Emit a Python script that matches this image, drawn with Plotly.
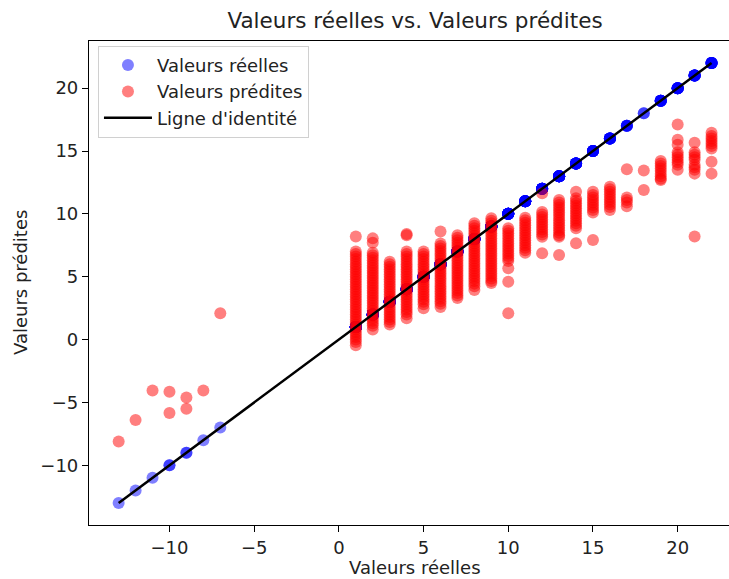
import plotly.graph_objects as go

# Actual (true) class values present in the test set
actual_values = [-13, -12, -11, -10, -9, -8, -7,
                 1, 2, 3, 4, 5, 6, 7, 8, 9, 10, 11,
                 12, 13, 14, 15, 16, 17, 18, 19, 20, 21, 22]

predicted_groups = [
    [-8.1],
    [-6.4],
    [-4.05],
    [-4.15, -5.85],
    [-4.6, -5.5],
    [-4.05],
    [2.1],
    [8.2, 7.0, 6.8, 6.6, 6.4, 6.2, 6.0, 5.8, 5.6, 5.4, 5.2, 5.0, 4.8, 4.6,
     4.4, 4.2, 4.0, 3.8, 3.6, 3.4, 3.2, 3.0, 2.8, 2.6, 2.4, 2.2, 2.0, 1.8,
     1.6, 1.4, 1.2, 1.0, 0.8, 0.6, 0.4, 0.2, 0.0, -0.2, -0.45],
    [8.05, 7.7, 6.9, 6.7, 6.5, 6.3, 6.1, 5.9, 5.7, 5.5, 5.3, 5.1, 4.9, 4.7,
     4.5, 4.3, 4.1, 3.9, 3.7, 3.5, 3.3, 3.1, 2.9, 2.7, 2.5, 2.3, 2.1, 1.9,
     1.7, 1.5, 1.3, 1.1, 0.8],
    [6.2, 6.0, 5.8, 5.6, 5.4, 5.2, 5.0, 4.8, 4.6, 4.4, 4.2, 4.0, 3.8, 3.6,
     3.4, 3.2, 3.0, 2.8, 2.6, 2.4, 2.2, 2.0, 1.8, 1.6, 1.4, 1.2],
    [8.4, 8.3, 7.0, 6.8, 6.6, 6.4, 6.2, 6.0, 5.8, 5.6, 5.4, 5.2, 5.0, 4.8,
     4.6, 4.4, 4.2, 4.0, 3.8, 3.6, 3.4, 3.2, 3.0, 2.8, 2.6, 2.4, 2.2, 2.0,
     1.7],
    [7.0, 6.8, 6.6, 6.4, 6.2, 6.0, 5.8, 5.6, 5.4, 5.2, 5.0, 4.8, 4.6, 4.4,
     4.2, 4.0, 3.8, 3.6, 3.4, 3.2, 3.0, 2.8, 2.5],
    [8.6, 7.65, 7.45, 7.25, 7.05, 6.85, 6.65, 6.45, 6.25, 6.05, 5.85, 5.65,
     5.45, 5.25, 5.05, 4.85, 4.65, 4.45, 4.25, 4.05, 3.85, 3.65, 3.45, 3.25,
     3.05, 2.85, 2.6],
    [8.3, 8.1, 7.9, 7.7, 7.5, 7.3, 7.1, 6.9, 6.7, 6.5, 6.3, 6.1, 5.9, 5.7,
     5.5, 5.3, 5.1, 4.9, 4.7, 4.5, 4.3, 4.1, 3.9, 3.7, 3.5, 3.3],
    [9.25, 9.05, 8.85, 8.65, 8.45, 8.25, 8.05, 7.85, 7.65, 7.45, 7.25, 7.05,
     6.85, 6.65, 6.45, 6.25, 6.05, 5.85, 5.65, 5.45, 5.25, 5.05, 4.85, 4.65,
     4.45, 4.25, 3.95],
    [9.65, 9.45, 9.25, 9.05, 8.85, 8.65, 8.45, 8.25, 8.05, 7.85, 7.65, 7.45,
     7.25, 7.05, 6.85, 6.65, 6.45, 6.25, 6.05, 5.85, 5.65, 5.45, 5.25, 5.05,
     4.85, 4.65, 4.5],
    [8.85, 8.65, 8.45, 8.25, 8.05, 7.85, 7.65, 7.45, 7.25, 7.05, 6.85, 6.65,
     6.45, 6.25, 5.67, 4.6, 2.1],
    [9.7, 9.5, 9.3, 9.1, 8.9, 8.7, 8.5, 8.3, 8.1, 7.9, 7.7, 7.5, 7.3, 7.1,
     6.9],
    [11.63, 10.15, 9.95, 9.75, 9.55, 9.35, 9.15, 8.95, 8.75, 8.55, 8.35,
     8.18, 6.86],
    [11.1, 10.9, 10.7, 10.5, 10.3, 10.1, 9.9, 9.7, 9.5, 9.3, 9.1, 8.9, 8.7,
     8.5, 8.3, 8.18, 6.73],
    [11.76, 11.25, 11.05, 10.85, 10.65, 10.45, 10.25, 10.05, 9.85, 9.65,
     9.45, 9.25, 9.05, 8.85, 7.66],
    [11.76, 11.5, 11.3, 11.1, 10.9, 10.7, 10.5, 10.3, 10.1, 7.92],
    [12.15, 11.95, 11.75, 11.55, 11.35, 11.15, 10.95, 10.75, 10.55, 10.3],
    [13.55, 11.3, 11.1, 10.9, 10.6],
    [13.45, 11.9],
    [14.2, 14.0, 13.8, 13.6, 13.4, 13.2, 13.0, 12.8, 12.7],
    [17.1, 15.9, 15.5, 14.9, 14.7, 14.5, 14.3, 14.1, 13.9, 13.5],
    [15.65, 14.9, 14.7, 14.5, 14.3, 13.9, 13.7, 13.5, 13.2, 8.2],
    [16.45, 16.2, 16.0, 15.8, 15.6, 15.4, 15.2, 14.15, 13.2],
]

# Flatten into paired arrays
actual = []
predicted = []
for a, preds in zip(actual_values, predicted_groups):
    for p in preds:
        actual.append(a)
        predicted.append(p)

line_x = [min(actual), max(actual)]

FONT = "DejaVu Sans"

fig = go.Figure()
fig.add_trace(go.Scatter(
    x=actual, y=actual, mode="markers", name="Valeurs réelles",
    marker=dict(color="blue", size=12, opacity=0.5, line=dict(width=0)),
))
fig.add_trace(go.Scatter(
    x=actual, y=predicted, mode="markers", name="Valeurs prédites",
    marker=dict(color="red", size=12, opacity=0.5, line=dict(width=0)),
))
fig.add_trace(go.Scatter(
    x=line_x, y=line_x, mode="lines", name="Ligne d'identité",
    line=dict(color="black", width=2.5),
))

fig.update_layout(
    width=729, height=579,
    margin=dict(l=89, r=0, t=41, b=54),
    paper_bgcolor="white", plot_bgcolor="white",
    font=dict(family=FONT, size=18, color="#222"),
    title=dict(text="Valeurs réelles vs. Valeurs prédites",
               font=dict(family=FONT, size=21.5, color="#222"),
               xref="container", x=415 / 729, xanchor="center",
               yref="container", y=1 - 20 / 579, yanchor="middle"),
    showlegend=True,
    legend=dict(x=0.014, y=0.99, xanchor="left", yanchor="top",
                bgcolor="rgba(255,255,255,0.8)", bordercolor="#d0d0d0",
                borderwidth=1, font=dict(family=FONT, size=18, color="#222"),
                itemwidth=48, tracegroupgap=0),
    xaxis=dict(range=[-14.75, 23.03], showgrid=False, zeroline=False,
               showline=True, linecolor="black", linewidth=1.2, mirror=True,
               ticks="outside", ticklen=6, tickcolor="black",
               tickvals=[-10, -5, 0, 5, 10, 15, 20],
               ticktext=["\u221210", "\u22125", "0", "5", "10", "15", "20"],
               tickfont=dict(family=FONT, size=18, color="#222")),
    yaxis=dict(range=[-14.75, 23.75], showgrid=False, zeroline=False,
               showline=True, linecolor="black", linewidth=1.2, mirror=False,
               ticks="outside", ticklen=6, tickcolor="black",
               tickvals=[-10, -5, 0, 5, 10, 15, 20],
               ticktext=["\u221210", "\u22125", "0", "5", "10", "15", "20"],
               tickfont=dict(family=FONT, size=18, color="#222")),
    annotations=[
        dict(text="Valeurs réelles", xref="paper", yref="paper",
             x=(415 - 89) / 640, y=(525 - 567) / 484, xanchor="center",
             yanchor="middle", showarrow=False,
             font=dict(family=FONT, size=18, color="#222")),
        dict(text="Valeurs prédites", xref="paper", yref="paper",
             x=(20 - 89) / 640, y=(525 - 283) / 484, xanchor="center",
             yanchor="middle", textangle=-90, showarrow=False,
             font=dict(family=FONT, size=18, color="#222")),
    ],
)

fig.write_html("out.html")
